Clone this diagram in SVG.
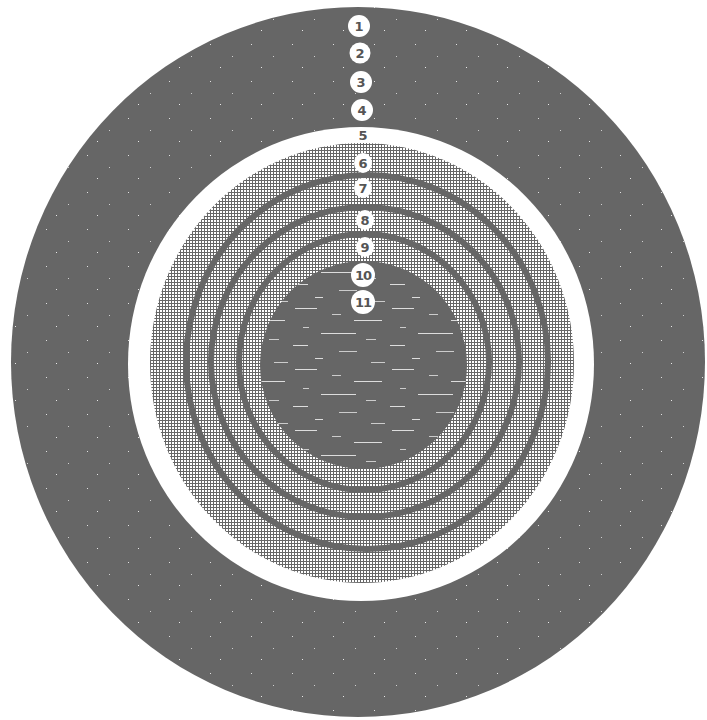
<svg xmlns="http://www.w3.org/2000/svg" width="707" height="720" viewBox="0 0 707 720">
  <defs>
    <pattern id="hatch" width="3" height="3" patternUnits="userSpaceOnUse">
      <rect width="3" height="3" fill="#ffffff"/>
      <rect width="3" height="1" fill="#666666"/>
      <rect width="1" height="3" fill="#666666"/>
    </pattern>
    <pattern id="speck" width="41" height="37" patternUnits="userSpaceOnUse">
      <rect width="41" height="37" fill="#666666"/>
      <rect x="5" y="7" width="1" height="1" fill="#e0e0e0"/>
      <rect x="27" y="19" width="1" height="1" fill="#d0d0d0"/>
      <rect x="15" y="30" width="1" height="1" fill="#e8e8e8"/>
    </pattern>
    <pattern id="dash" width="97" height="61" patternUnits="userSpaceOnUse">
      <rect width="97" height="61" fill="#666666"/>
      <rect x="4" y="3" width="22" height="1" fill="#dddddd"/>
      <rect x="41" y="9" width="9" height="1" fill="#cccccc"/>
      <rect x="63" y="15" width="28" height="1" fill="#dddddd"/>
      <rect x="12" y="22" width="6" height="1" fill="#cccccc"/>
      <rect x="30" y="28" width="35" height="1" fill="#dddddd"/>
      <rect x="75" y="34" width="10" height="1" fill="#cccccc"/>
      <rect x="2" y="40" width="15" height="1" fill="#dddddd"/>
      <rect x="48" y="46" width="18" height="1" fill="#cccccc"/>
      <rect x="24" y="53" width="8" height="1" fill="#dddddd"/>
      <rect x="80" y="57" width="14" height="1" fill="#cccccc"/>
    </pattern>
  </defs>
  <style>
    .ring { fill: none; stroke: #666666; stroke-width: 6; }
    .blob { fill: #ffffff; }
    .lbl { font-family: "DejaVu Sans", "Liberation Sans", sans-serif; font-weight: bold; font-size: 13px; fill: #555555; text-anchor: middle; dominant-baseline: central; }
  </style>

  <g id="outer-disc">
    <ellipse cx="358" cy="362" rx="347" ry="355" fill="url(#speck)"/>
  </g>
  <g id="white-ring">
    <ellipse cx="361" cy="364" rx="233" ry="237" fill="#ffffff"/>
  </g>
  <g id="hatched-zone">
    <ellipse cx="362" cy="363" rx="212" ry="220" fill="url(#hatch)"/>
  </g>
  <g id="ring-lines">
    <ellipse class="ring" cx="367" cy="362" rx="181" ry="187"/>
    <ellipse class="ring" cx="365" cy="362" rx="154" ry="155"/>
    <ellipse class="ring" cx="364" cy="362" rx="125" ry="128"/>
  </g>
  <g id="core">
    <ellipse cx="363.5" cy="365" rx="103.5" ry="104" fill="url(#dash)"/>
  </g>

  <g id="connectors"></g>

  <g id="label-1"><circle class="blob" cx="359" cy="26" r="11"/><text class="lbl" x="359" y="26">1</text></g>
  <g id="label-2"><circle class="blob" cx="360" cy="53" r="10.5"/><text class="lbl" x="360" y="53">2</text></g>
  <g id="label-3"><circle class="blob" cx="361" cy="82" r="11"/><text class="lbl" x="361" y="82">3</text></g>
  <g id="label-4"><circle class="blob" cx="362" cy="110" r="11"/><text class="lbl" x="362" y="110">4</text></g>
  <g id="label-5"><text class="lbl" x="363" y="135">5</text></g>
  <g id="label-6"><ellipse class="blob" cx="363" cy="163" rx="9" ry="10"/><text class="lbl" x="363" y="163">6</text></g>
  <g id="label-7"><ellipse class="blob" cx="363" cy="188" rx="9" ry="10"/><text class="lbl" x="363" y="188">7</text></g>
  <g id="label-8"><ellipse class="blob" cx="365" cy="220" rx="9" ry="10"/><text class="lbl" x="365" y="220">8</text></g>
  <g id="label-9"><ellipse class="blob" cx="365" cy="247" rx="9" ry="10"/><text class="lbl" x="365" y="247">9</text></g>
  <g id="label-10"><circle class="blob" cx="363" cy="275" r="12"/><text class="lbl" x="363" y="275" style="letter-spacing:-1px">10</text></g>
  <g id="label-11"><circle class="blob" cx="363" cy="302" r="12"/><text class="lbl" x="363" y="302" style="letter-spacing:-1px">11</text></g>
</svg>
